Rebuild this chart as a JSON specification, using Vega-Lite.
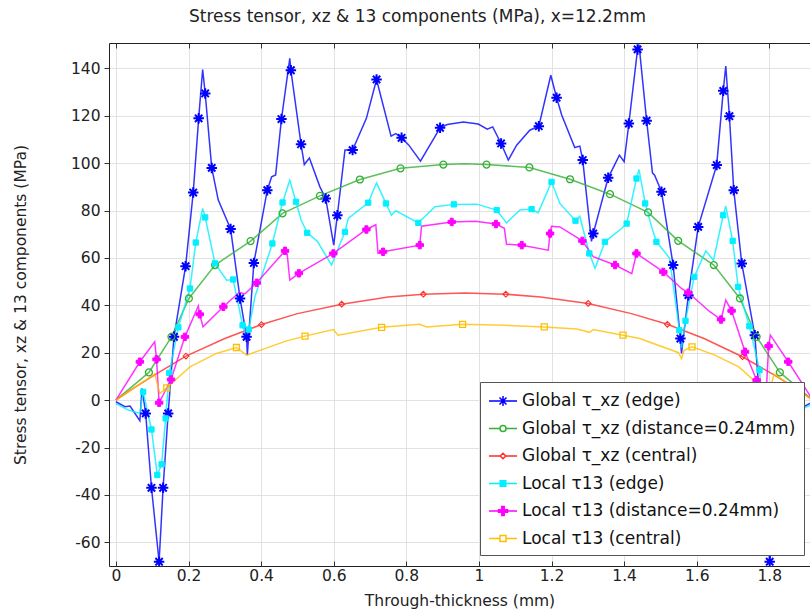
{
"$schema":"https://vega.github.io/schema/vega-lite/v6.json",
"width":701,"height":523,"autosize":"none",
"padding":{"left":109,"top":43,"right":0,"bottom":47},
"background":"white",
"title":{"text":"Stress tensor, xz & 13 components (MPa), x=12.2mm","font":"DejaVu Sans","fontSize":17,"fontWeight":"normal","color":"#222","anchor":"middle","dx":-42,"offset":17},
"config":{"view":{"stroke":null}},
"datasets":{"d":[
{"s":"GE","x":0,"y":-0.7,"m":0},{"s":"GE","x":0.025,"y":-2.8,"m":0},{"s":"GE","x":0.039,"y":-2.5,"m":0},{"s":"GE","x":0.066,"y":-8.7,"m":0},{"s":"GE","x":0.072,"y":5,"m":0},{"s":"GE","x":0.082,"y":-5.6,"m":1},{"s":"GE","x":0.098,"y":-37,"m":1},{"s":"GE","x":0.119,"y":-68.2,"m":1},{"s":"GE","x":0.13,"y":-37,"m":1},{"s":"GE","x":0.144,"y":-5.6,"m":1},{"s":"GE","x":0.16,"y":26.7,"m":1},{"s":"GE","x":0.192,"y":56.5,"m":1},{"s":"GE","x":0.213,"y":87.6,"m":1},{"s":"GE","x":0.228,"y":118.9,"m":1},{"s":"GE","x":0.239,"y":139.5,"m":0},{"s":"GE","x":0.246,"y":129.4,"m":1},{"s":"GE","x":0.264,"y":98,"m":1},{"s":"GE","x":0.282,"y":84.4,"m":0},{"s":"GE","x":0.316,"y":72.2,"m":1},{"s":"GE","x":0.342,"y":42.9,"m":1},{"s":"GE","x":0.36,"y":26.7,"m":1},{"s":"GE","x":0.362,"y":19,"m":0},{"s":"GE","x":0.38,"y":57.9,"m":1},{"s":"GE","x":0.417,"y":88.6,"m":1},{"s":"GE","x":0.429,"y":94.2,"m":0},{"s":"GE","x":0.44,"y":95,"m":0},{"s":"GE","x":0.456,"y":118.6,"m":1},{"s":"GE","x":0.479,"y":144.2,"m":0},{"s":"GE","x":0.482,"y":139.2,"m":1},{"s":"GE","x":0.51,"y":108,"m":1},{"s":"GE","x":0.519,"y":99.4,"m":0},{"s":"GE","x":0.533,"y":102.2,"m":0},{"s":"GE","x":0.562,"y":90,"m":0},{"s":"GE","x":0.578,"y":85.1,"m":1},{"s":"GE","x":0.6,"y":65.4,"m":0},{"s":"GE","x":0.61,"y":78,"m":1},{"s":"GE","x":0.631,"y":105.5,"m":0},{"s":"GE","x":0.652,"y":105.5,"m":1},{"s":"GE","x":0.69,"y":118.9,"m":0},{"s":"GE","x":0.718,"y":135.3,"m":1},{"s":"GE","x":0.758,"y":111.4,"m":0},{"s":"GE","x":0.771,"y":112.5,"m":0},{"s":"GE","x":0.787,"y":110.7,"m":1},{"s":"GE","x":0.807,"y":107.6,"m":0},{"s":"GE","x":0.839,"y":100.8,"m":0},{"s":"GE","x":0.893,"y":114.9,"m":1},{"s":"GE","x":0.913,"y":116.3,"m":0},{"s":"GE","x":0.957,"y":117.4,"m":0},{"s":"GE","x":0.998,"y":116.5,"m":0},{"s":"GE","x":1.023,"y":114.3,"m":0},{"s":"GE","x":1.038,"y":115.3,"m":0},{"s":"GE","x":1.061,"y":108.3,"m":1},{"s":"GE","x":1.081,"y":101.3,"m":0},{"s":"GE","x":1.104,"y":107.6,"m":0},{"s":"GE","x":1.14,"y":113.9,"m":0},{"s":"GE","x":1.165,"y":115.6,"m":1},{"s":"GE","x":1.198,"y":137.1,"m":0},{"s":"GE","x":1.214,"y":127.6,"m":1},{"s":"GE","x":1.228,"y":120.3,"m":0},{"s":"GE","x":1.264,"y":106.6,"m":0},{"s":"GE","x":1.278,"y":107.2,"m":0},{"s":"GE","x":1.286,"y":101.3,"m":1},{"s":"GE","x":1.31,"y":67,"m":0},{"s":"GE","x":1.315,"y":70.3,"m":1},{"s":"GE","x":1.356,"y":93.8,"m":1},{"s":"GE","x":1.387,"y":103.4,"m":0},{"s":"GE","x":1.4,"y":100.6,"m":0},{"s":"GE","x":1.413,"y":116.7,"m":1},{"s":"GE","x":1.437,"y":148,"m":1},{"s":"GE","x":1.441,"y":150,"m":0},{"s":"GE","x":1.462,"y":117.9,"m":1},{"s":"GE","x":1.478,"y":95.9,"m":0},{"s":"GE","x":1.484,"y":94.9,"m":0},{"s":"GE","x":1.503,"y":87.9,"m":1},{"s":"GE","x":1.535,"y":57,"m":1},{"s":"GE","x":1.555,"y":26,"m":1},{"s":"GE","x":1.558,"y":19.7,"m":0},{"s":"GE","x":1.577,"y":44.3,"m":1},{"s":"GE","x":1.604,"y":73.1,"m":1},{"s":"GE","x":1.655,"y":99.2,"m":1},{"s":"GE","x":1.673,"y":130.5,"m":1},{"s":"GE","x":1.68,"y":141,"m":0},{"s":"GE","x":1.69,"y":119.8,"m":1},{"s":"GE","x":1.702,"y":88.6,"m":1},{"s":"GE","x":1.724,"y":57.7,"m":1},{"s":"GE","x":1.76,"y":27.4,"m":1},{"s":"GE","x":1.776,"y":-5.6,"m":1},{"s":"GE","x":1.79,"y":-37,"m":1},{"s":"GE","x":1.801,"y":-68.2,"m":1},{"s":"GE","x":1.822,"y":-37,"m":1},{"s":"GE","x":1.838,"y":-5.6,"m":1},{"s":"GE","x":1.849,"y":5,"m":0},{"s":"GE","x":1.854,"y":-8.7,"m":0},{"s":"GE","x":1.88,"y":-2.5,"m":0},{"s":"GE","x":1.895,"y":-2.8,"m":0},{"s":"GE","x":1.92,"y":-0.7,"m":0},
{"s":"GD","x":0,"y":0,"m":0},{"s":"GD","x":0.091,"y":11.7,"m":1},{"s":"GD","x":0.153,"y":26.7,"m":1},{"s":"GD","x":0.201,"y":42.9,"m":1},{"s":"GD","x":0.273,"y":57,"m":1},{"s":"GD","x":0.371,"y":67.1,"m":1},{"s":"GD","x":0.459,"y":78.8,"m":1},{"s":"GD","x":0.562,"y":86.2,"m":1},{"s":"GD","x":0.672,"y":93.1,"m":1},{"s":"GD","x":0.784,"y":97.8,"m":1},{"s":"GD","x":0.902,"y":99.4,"m":1},{"s":"GD","x":0.96,"y":99.7,"m":0},{"s":"GD","x":1.021,"y":99.4,"m":1},{"s":"GD","x":1.139,"y":98.2,"m":1},{"s":"GD","x":1.251,"y":93.2,"m":1},{"s":"GD","x":1.361,"y":86.9,"m":1},{"s":"GD","x":1.466,"y":79.2,"m":1},{"s":"GD","x":1.549,"y":67.2,"m":1},{"s":"GD","x":1.647,"y":57,"m":1},{"s":"GD","x":1.719,"y":42.9,"m":1},{"s":"GD","x":1.765,"y":26.7,"m":1},{"s":"GD","x":1.829,"y":11.7,"m":1},{"s":"GD","x":1.92,"y":0,"m":0},
{"s":"GC","x":0,"y":0,"m":0},{"s":"GC","x":0.05,"y":5.2,"m":0},{"s":"GC","x":0.1,"y":10,"m":0},{"s":"GC","x":0.193,"y":18.6,"m":1},{"s":"GC","x":0.3,"y":26,"m":0},{"s":"GC","x":0.401,"y":31.9,"m":1},{"s":"GC","x":0.5,"y":36.5,"m":0},{"s":"GC","x":0.622,"y":40.5,"m":1},{"s":"GC","x":0.75,"y":43.5,"m":0},{"s":"GC","x":0.847,"y":44.7,"m":1},{"s":"GC","x":0.96,"y":45.2,"m":0},{"s":"GC","x":1.074,"y":44.7,"m":1},{"s":"GC","x":1.17,"y":43.5,"m":0},{"s":"GC","x":1.301,"y":40.8,"m":1},{"s":"GC","x":1.42,"y":36.5,"m":0},{"s":"GC","x":1.519,"y":32,"m":1},{"s":"GC","x":1.62,"y":26,"m":0},{"s":"GC","x":1.726,"y":18.3,"m":1},{"s":"GC","x":1.82,"y":10,"m":0},{"s":"GC","x":1.87,"y":5.2,"m":0},{"s":"GC","x":1.92,"y":0,"m":0},
{"s":"LE","x":0,"y":-1.5,"m":0},{"s":"LE","x":0.034,"y":-4.2,"m":0},{"s":"LE","x":0.066,"y":-5.6,"m":0},{"s":"LE","x":0.075,"y":3.5,"m":1},{"s":"LE","x":0.098,"y":-12.4,"m":1},{"s":"LE","x":0.114,"y":-31.6,"m":1},{"s":"LE","x":0.126,"y":-27.1,"m":1},{"s":"LE","x":0.137,"y":-7.7,"m":1},{"s":"LE","x":0.147,"y":11.5,"m":1},{"s":"LE","x":0.172,"y":30.7,"m":1},{"s":"LE","x":0.204,"y":47.1,"m":1},{"s":"LE","x":0.22,"y":66.5,"m":1},{"s":"LE","x":0.239,"y":80.9,"m":0},{"s":"LE","x":0.246,"y":77.1,"m":1},{"s":"LE","x":0.273,"y":57.7,"m":1},{"s":"LE","x":0.305,"y":50.6,"m":0},{"s":"LE","x":0.323,"y":50.9,"m":1},{"s":"LE","x":0.349,"y":31.6,"m":1},{"s":"LE","x":0.357,"y":27,"m":0},{"s":"LE","x":0.366,"y":29.8,"m":1},{"s":"LE","x":0.383,"y":43.6,"m":0},{"s":"LE","x":0.431,"y":66.1,"m":1},{"s":"LE","x":0.459,"y":83.4,"m":1},{"s":"LE","x":0.479,"y":92.8,"m":0},{"s":"LE","x":0.496,"y":83.7,"m":1},{"s":"LE","x":0.51,"y":76,"m":0},{"s":"LE","x":0.527,"y":70.6,"m":1},{"s":"LE","x":0.555,"y":67,"m":0},{"s":"LE","x":0.594,"y":57,"m":0},{"s":"LE","x":0.631,"y":71,"m":1},{"s":"LE","x":0.64,"y":76.7,"m":0},{"s":"LE","x":0.695,"y":83.3,"m":1},{"s":"LE","x":0.718,"y":91.7,"m":0},{"s":"LE","x":0.744,"y":83,"m":1},{"s":"LE","x":0.759,"y":78,"m":0},{"s":"LE","x":0.771,"y":79.9,"m":0},{"s":"LE","x":0.833,"y":74.8,"m":1},{"s":"LE","x":0.879,"y":81.6,"m":0},{"s":"LE","x":0.931,"y":82.6,"m":1},{"s":"LE","x":0.994,"y":82.7,"m":0},{"s":"LE","x":1.049,"y":80.2,"m":1},{"s":"LE","x":1.076,"y":74.8,"m":0},{"s":"LE","x":1.113,"y":80.2,"m":0},{"s":"LE","x":1.145,"y":80.6,"m":1},{"s":"LE","x":1.163,"y":79,"m":0},{"s":"LE","x":1.2,"y":92.1,"m":1},{"s":"LE","x":1.223,"y":83,"m":0},{"s":"LE","x":1.266,"y":75.7,"m":1},{"s":"LE","x":1.278,"y":77.6,"m":0},{"s":"LE","x":1.304,"y":61.9,"m":1},{"s":"LE","x":1.32,"y":55.6,"m":0},{"s":"LE","x":1.347,"y":66.8,"m":1},{"s":"LE","x":1.393,"y":72.4,"m":0},{"s":"LE","x":1.407,"y":74.5,"m":1},{"s":"LE","x":1.434,"y":93.5,"m":1},{"s":"LE","x":1.441,"y":97.3,"m":0},{"s":"LE","x":1.458,"y":83,"m":1},{"s":"LE","x":1.476,"y":73,"m":0},{"s":"LE","x":1.489,"y":66.8,"m":1},{"s":"LE","x":1.525,"y":60,"m":0},{"s":"LE","x":1.552,"y":29.5,"m":1},{"s":"LE","x":1.558,"y":22,"m":0},{"s":"LE","x":1.569,"y":33.5,"m":1},{"s":"LE","x":1.593,"y":52,"m":1},{"s":"LE","x":1.625,"y":63,"m":0},{"s":"LE","x":1.646,"y":59,"m":0},{"s":"LE","x":1.673,"y":78,"m":1},{"s":"LE","x":1.68,"y":81.9,"m":0},{"s":"LE","x":1.699,"y":67.2,"m":1},{"s":"LE","x":1.714,"y":47.8,"m":1},{"s":"LE","x":1.745,"y":31.2,"m":1},{"s":"LE","x":1.773,"y":12.7,"m":1},{"s":"LE","x":1.783,"y":-7.7,"m":1},{"s":"LE","x":1.794,"y":-27.1,"m":1},{"s":"LE","x":1.806,"y":-31.6,"m":1},{"s":"LE","x":1.822,"y":-12.4,"m":1},{"s":"LE","x":1.845,"y":3.5,"m":1},{"s":"LE","x":1.854,"y":-5.6,"m":0},{"s":"LE","x":1.886,"y":-4.2,"m":0},{"s":"LE","x":1.92,"y":-1.5,"m":0},
{"s":"LD","x":0,"y":0,"m":0},{"s":"LD","x":0.066,"y":16.2,"m":1},{"s":"LD","x":0.107,"y":24.6,"m":0},{"s":"LD","x":0.112,"y":17.2,"m":1},{"s":"LD","x":0.119,"y":-1.1,"m":1},{"s":"LD","x":0.152,"y":8.7,"m":1},{"s":"LD","x":0.19,"y":26.7,"m":1},{"s":"LD","x":0.227,"y":39.7,"m":0},{"s":"LD","x":0.231,"y":36.2,"m":1},{"s":"LD","x":0.24,"y":30.9,"m":0},{"s":"LD","x":0.296,"y":39.4,"m":1},{"s":"LD","x":0.34,"y":45.5,"m":0},{"s":"LD","x":0.355,"y":44.8,"m":0},{"s":"LD","x":0.388,"y":49.5,"m":1},{"s":"LD","x":0.466,"y":63,"m":1},{"s":"LD","x":0.472,"y":61.5,"m":0},{"s":"LD","x":0.479,"y":50.6,"m":0},{"s":"LD","x":0.504,"y":53.5,"m":1},{"s":"LD","x":0.599,"y":61.9,"m":1},{"s":"LD","x":0.69,"y":72,"m":1},{"s":"LD","x":0.716,"y":74,"m":0},{"s":"LD","x":0.722,"y":62,"m":0},{"s":"LD","x":0.736,"y":62.6,"m":1},{"s":"LD","x":0.837,"y":65.4,"m":1},{"s":"LD","x":0.842,"y":73.4,"m":0},{"s":"LD","x":0.925,"y":75.2,"m":1},{"s":"LD","x":0.99,"y":75.5,"m":0},{"s":"LD","x":1.047,"y":74.3,"m":1},{"s":"LD","x":1.07,"y":72.5,"m":0},{"s":"LD","x":1.076,"y":65.8,"m":0},{"s":"LD","x":1.118,"y":65.4,"m":1},{"s":"LD","x":1.191,"y":63.3,"m":0},{"s":"LD","x":1.196,"y":70.3,"m":1},{"s":"LD","x":1.2,"y":73.4,"m":0},{"s":"LD","x":1.223,"y":73.1,"m":0},{"s":"LD","x":1.285,"y":67.2,"m":1},{"s":"LD","x":1.315,"y":60.5,"m":0},{"s":"LD","x":1.375,"y":57,"m":1},{"s":"LD","x":1.421,"y":53.4,"m":0},{"s":"LD","x":1.434,"y":61.9,"m":1},{"s":"LD","x":1.508,"y":54.1,"m":1},{"s":"LD","x":1.558,"y":47.1,"m":0},{"s":"LD","x":1.577,"y":45.3,"m":1},{"s":"LD","x":1.636,"y":37.3,"m":0},{"s":"LD","x":1.667,"y":34,"m":1},{"s":"LD","x":1.68,"y":42.2,"m":0},{"s":"LD","x":1.696,"y":37.7,"m":1},{"s":"LD","x":1.733,"y":20.4,"m":1},{"s":"LD","x":1.765,"y":8.4,"m":1},{"s":"LD","x":1.79,"y":-1,"m":1},{"s":"LD","x":1.798,"y":22.8,"m":1},{"s":"LD","x":1.803,"y":27.4,"m":0},{"s":"LD","x":1.852,"y":16.2,"m":1},{"s":"LD","x":1.92,"y":0,"m":0},
{"s":"LC","x":0,"y":0,"m":0},{"s":"LC","x":0.107,"y":11,"m":0},{"s":"LC","x":0.121,"y":2.8,"m":0},{"s":"LC","x":0.14,"y":5.2,"m":1},{"s":"LC","x":0.204,"y":14,"m":0},{"s":"LC","x":0.277,"y":19.7,"m":0},{"s":"LC","x":0.332,"y":22.2,"m":1},{"s":"LC","x":0.36,"y":19,"m":0},{"s":"LC","x":0.397,"y":21,"m":0},{"s":"LC","x":0.47,"y":25,"m":0},{"s":"LC","x":0.521,"y":27,"m":1},{"s":"LC","x":0.599,"y":29.8,"m":0},{"s":"LC","x":0.612,"y":27.4,"m":0},{"s":"LC","x":0.732,"y":30.7,"m":1},{"s":"LC","x":0.837,"y":32,"m":0},{"s":"LC","x":0.856,"y":30.9,"m":0},{"s":"LC","x":0.955,"y":32,"m":1},{"s":"LC","x":1.067,"y":31.6,"m":0},{"s":"LC","x":1.18,"y":30.9,"m":1},{"s":"LC","x":1.27,"y":30,"m":0},{"s":"LC","x":1.305,"y":28.6,"m":0},{"s":"LC","x":1.315,"y":29.8,"m":0},{"s":"LC","x":1.397,"y":27.4,"m":1},{"s":"LC","x":1.443,"y":26,"m":0},{"s":"LC","x":1.55,"y":20,"m":0},{"s":"LC","x":1.558,"y":17.5,"m":0},{"s":"LC","x":1.565,"y":21,"m":0},{"s":"LC","x":1.587,"y":22.5,"m":1},{"s":"LC","x":1.65,"y":19,"m":0},{"s":"LC","x":1.716,"y":14,"m":0},{"s":"LC","x":1.78,"y":5.2,"m":1},{"s":"LC","x":1.799,"y":2.8,"m":0},{"s":"LC","x":1.813,"y":11,"m":0},{"s":"LC","x":1.92,"y":0,"m":0}
]},
"data":{"name":"d"},
"resolve":{"axis":{"x":"independent"}},
"layer":[
{"mark":{"type":"line","strokeWidth":1.5,"opacity":0.8,"clip":true},
 "encoding":{
  "x":{"field":"x","type":"quantitative","scale":{"domain":[-0.019,1.912],"nice":false,"zero":false},
   "axis":{"orient":"bottom","title":"Through-thickness (mm)","values":[0,0.2,0.4,0.6,0.8,1,1.2,1.4,1.6,1.8],"labelExpr":"'' + datum.value","grid":true,"gridColor":"#e2e2e2","gridWidth":1,"tickSize":-5,"tickColor":"#333","domainColor":"#222","labelFont":"DejaVu Sans","labelFontSize":15.5,"labelColor":"#222","labelPadding":7,"labelFlush":false,"titleFont":"DejaVu Sans","titleFontSize":15.5,"titleFontWeight":"normal","titleColor":"#222","titlePadding":10}},
  "y":{"field":"y","type":"quantitative","scale":{"domain":[-70,150.7],"nice":false,"zero":false},
   "axis":{"title":"Stress tensor, xz & 13 components (MPa)","values":[-60,-40,-20,0,20,40,60,80,100,120,140],"labelExpr":"'' + datum.value","grid":true,"gridColor":"#e2e2e2","gridWidth":1,"tickSize":5,"tickColor":"#333","domainColor":"#222","labelFont":"DejaVu Sans","labelFontSize":15.5,"labelColor":"#222","labelPadding":4,"labelFlush":false,"titleFont":"DejaVu Sans","titleFontSize":15.5,"titleFontWeight":"normal","titleColor":"#222","titlePadding":42}},
  "stroke":{"field":"s","type":"nominal","scale":{"domain":["GE","GD","GC","LE","LD","LC"],"range":["#0000ff","#33b033","#ff2a2a","#00f0ff","#ff00ff","#ffbf00"]},
   "legend":{"title":null,"orient":"none","legendX":371,"legendY":339,"padding":8,"strokeColor":"#555","fillColor":"white","symbolSize":400,"symbolStrokeWidth":1.5,"symbolOpacity":1,"rowPadding":8.5,"labelOffset":12,"labelFont":"DejaVu Sans","labelFontSize":17,"labelColor":"#111","labelLimit":400,
    "labelExpr":"datum.value=='GE'?'Global τ_xz (edge)':datum.value=='GD'?'Global τ_xz (distance=0.24mm)':datum.value=='GC'?'Global τ_xz (central)':datum.value=='LE'?'Local τ13 (edge)':datum.value=='LD'?'Local τ13 (distance=0.24mm)':'Local τ13 (central)'"}}
 }},
{"transform":[{"filter":"datum.m==1 && datum.s=='GE'"}],
 "mark":{"type":"point","shape":"M-1,0L1,0M0,-1L0,1M-0.7,-0.7L0.7,0.7M-0.7,0.7L0.7,-0.7","size":110,"strokeWidth":2,"stroke":"#0000ff","filled":false,"opacity":1,"clip":true},
 "encoding":{
  "x":{"field":"x","type":"quantitative","axis":{"orient":"top","title":null,"labels":false,"grid":false,"values":[0,0.2,0.4,0.6,0.8,1,1.2,1.4,1.6,1.8],"tickSize":-5,"tickColor":"#333","domainColor":"#222"}},
  "y":{"field":"y","type":"quantitative"}}},
{"transform":[{"filter":"datum.m==1 && datum.s=='GD'"}],
 "mark":{"type":"point","shape":"circle","size":48,"strokeWidth":1.3,"stroke":"#33b033","filled":false,"opacity":1,"clip":true},
 "encoding":{"x":{"field":"x","type":"quantitative","axis":null},"y":{"field":"y","type":"quantitative"}}},
{"transform":[{"filter":"datum.m==1 && datum.s=='GC'"}],
 "mark":{"type":"point","shape":"diamond","size":32,"strokeWidth":1.1,"stroke":"#ff2a2a","filled":false,"opacity":1,"clip":true},
 "encoding":{"x":{"field":"x","type":"quantitative","axis":null},"y":{"field":"y","type":"quantitative"}}},
{"transform":[{"filter":"datum.m==1 && datum.s=='LE'"}],
 "mark":{"type":"point","shape":"square","size":28,"strokeWidth":1,"stroke":"#00f0ff","fill":"#00f0ff","filled":true,"opacity":1,"clip":true},
 "encoding":{"x":{"field":"x","type":"quantitative","axis":null},"y":{"field":"y","type":"quantitative"}}},
{"transform":[{"filter":"datum.m==1 && datum.s=='LD'"}],
 "mark":{"type":"point","shape":"cross","size":55,"strokeWidth":1,"stroke":"#ff00ff","fill":"#ff00ff","filled":true,"opacity":1,"clip":true},
 "encoding":{"x":{"field":"x","type":"quantitative","axis":null},"y":{"field":"y","type":"quantitative"}}},
{"transform":[{"filter":"datum.m==1 && datum.s=='LC'"}],
 "mark":{"type":"point","shape":"square","size":36,"strokeWidth":1.3,"stroke":"#ffbf00","filled":false,"opacity":1,"clip":true},
 "encoding":{"x":{"field":"x","type":"quantitative","axis":null},"y":{"field":"y","type":"quantitative"}}},
{"transform":[{"filter":"datum.m==2"}],
 "mark":{"type":"point","filled":true,"opacity":1,"clip":true},
 "encoding":{
  "x":{"field":"x","type":"quantitative","axis":null},
  "y":{"field":"y","type":"quantitative"},
  "stroke":{"field":"s","type":"nominal",
   "legend":{"title":null,"orient":"none","legendX":371,"legendY":339,"padding":8,"strokeColor":"#555","fillColor":"white","symbolSize":400,"symbolStrokeWidth":1.5,"symbolOpacity":1,"rowPadding":8.5,"labelOffset":12,"labelFont":"DejaVu Sans","labelFontSize":17,"labelColor":"#111","labelLimit":400,
    "labelExpr":"datum.value=='GE'?'Global τ_xz (edge)':datum.value=='GD'?'Global τ_xz (distance=0.24mm)':datum.value=='GC'?'Global τ_xz (central)':datum.value=='LE'?'Local τ13 (edge)':datum.value=='LD'?'Local τ13 (distance=0.24mm)':'Local τ13 (central)'"}},
  "fill":{"field":"s","type":"nominal","scale":{"domain":["GE","GD","GC","LE","LD","LC"],"range":["transparent","transparent","transparent","#00f0ff","#ff00ff","transparent"]},
   "legend":{"title":null,"orient":"none","legendX":371,"legendY":339,"padding":8,"strokeColor":"#555","fillColor":"white","symbolSize":400,"symbolStrokeWidth":1.5,"symbolOpacity":1,"rowPadding":8.5,"labelOffset":12,"labelFont":"DejaVu Sans","labelFontSize":17,"labelColor":"#111","labelLimit":400,
    "labelExpr":"datum.value=='GE'?'Global τ_xz (edge)':datum.value=='GD'?'Global τ_xz (distance=0.24mm)':datum.value=='GC'?'Global τ_xz (central)':datum.value=='LE'?'Local τ13 (edge)':datum.value=='LD'?'Local τ13 (distance=0.24mm)':'Local τ13 (central)'"}},
  "shape":{"field":"s","type":"nominal","scale":{"domain":["GE","GD","GC","LE","LD","LC"],"range":["M-1,0L1.8,0M-0.1,0L0.9,0M0.4,-0.5L0.4,0.5M0.05,-0.35L0.75,0.35M0.05,0.35L0.75,-0.35","M-1,0L0.1,0M0.7,0L1.8,0M0.1,0A0.3,0.3 0 1,0 0.7,0A0.3,0.3 0 1,0 0.1,0Z","M-1,0L0.12,0M0.68,0L1.8,0M0.12,0L0.4,-0.28L0.68,0L0.4,0.28Z","M-1,0L1.8,0M0.12,-0.28L0.68,-0.28L0.68,0.28L0.12,0.28Z","M-1,0L1.8,0M0.28,-0.45L0.52,-0.45L0.52,-0.12L0.85,-0.12L0.85,0.12L0.52,0.12L0.52,0.45L0.28,0.45L0.28,0.12L-0.05,0.12L-0.05,-0.12L0.28,-0.12Z","M-1,0L0.1,0M0.7,0L1.8,0M0.1,-0.3L0.7,-0.3L0.7,0.3L0.1,0.3Z"]},
   "legend":{"title":null,"orient":"none","legendX":371,"legendY":339,"padding":8,"strokeColor":"#555","fillColor":"white","symbolSize":400,"symbolStrokeWidth":1.5,"symbolOpacity":1,"rowPadding":8.5,"labelOffset":12,"labelFont":"DejaVu Sans","labelFontSize":17,"labelColor":"#111","labelLimit":400,
    "labelExpr":"datum.value=='GE'?'Global τ_xz (edge)':datum.value=='GD'?'Global τ_xz (distance=0.24mm)':datum.value=='GC'?'Global τ_xz (central)':datum.value=='LE'?'Local τ13 (edge)':datum.value=='LD'?'Local τ13 (distance=0.24mm)':'Local τ13 (central)'"}}
 }}
]
}
